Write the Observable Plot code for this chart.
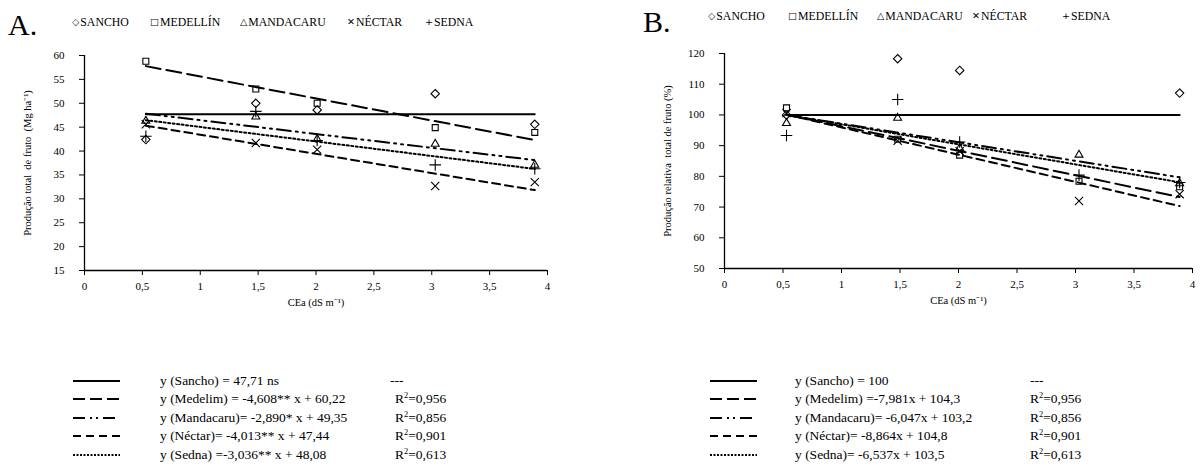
<!DOCTYPE html>
<html><head><meta charset="utf-8">
<script src="https://cdn.jsdelivr.net/npm/d3@7"></script>
<script src="https://cdn.jsdelivr.net/npm/@observablehq/plot@0.6"></script>
<style>
body{margin:0;background:#fff;font-family:"Liberation Serif","Times New Roman",serif;color:#000}
#root{position:relative;width:1200px;height:466px;overflow:hidden;background:#fff}
.abs{position:absolute;white-space:nowrap;line-height:1.15;font-family:"Liberation Serif","Times New Roman",serif}
.title{font-size:30px}
.leg{font-size:11.8px}
.leg .g{font-family:"DejaVu Sans",sans-serif;font-size:9.5px;vertical-align:0.1em;margin-right:1px}
.eq{font-size:13.5px}
sup{font-size:0.62em;vertical-align:0.55em;line-height:0}
svg.plot{position:absolute;top:0}
svg.plot text{font-family:"Liberation Serif","Times New Roman",serif !important}
svg.plot [aria-label$="axis label"]{font-size:10.5px}
</style></head><body><div id="root"></div>
<script>
// ---- data ----
const cultivars = ["Sancho", "Medellín", "Mandacaru", "Néctar", "Sedna"];
const legendNames = ["SANCHO", "MEDELLÍN", "MANDACARU", "NÉCTAR", "SEDNA"];
const legendGlyphs = ["◇", "□", "△", "✕", "+"];
const ceaLevels = [0.53, 1.48, 2.01, 3.03, 3.89];

// Panel A: total fruit yield (Mg ha-1)
const yieldSancho    = [42.4, 50.0, 48.6, 52.0, 45.6];
const yieldMedellin  = [58.8, 53.0, 50.0, 44.9, 43.9];
const yieldMandacaru = [46.3, 47.2, 42.5, 41.5, 37.1];
const yieldNectar    = [45.6, 41.7, 40.3, 32.7, 33.5];
const yieldSedna     = [43.1, 48.3, 42.2, 37.1, 36.3];

// Panel B: relative total fruit yield (%)  (Sancho at 3.03 is off-scale)
const relSancho    = [100.0, 118.3, 114.5, null, 107.1];
const relMedellin  = [102.3, 92.1, 86.9, 78.4, 76.6];
const relMandacaru = [97.3, 99.0, 89.2, 87.0, 77.7];
const relNectar    = [100.6, 91.6, 88.2, 72.0, 74.2];
const relSedna     = [93.3, 105.0, 91.2, 80.4, 78.0];

// regression coefficients
const slopesA = [0, -4.608, -2.890, -4.013, -3.036];
const interceptsA = [47.71, 60.22, 49.35, 47.44, 48.08];
const slopesB = [0, -7.981, -6.047, -8.864, -6.537];
const interceptsB = [100, 104.3, 103.2, 104.8, 103.5];
const fitRange = [0.53, 3.89];

const eqLabelsA = ["y (Sancho) = 47,71 ns", "y (Medelim) = -4,608** x + 60,22", "y (Mandacaru)= -2,890* x + 49,35", "y (Néctar)= -4,013** x + 47,44", "y (Sedna) =-3,036** x + 48,08"];
const eqLabelsB = ["y (Sancho)  = 100", "y (Medelim) =-7,981x + 104,3", "y (Mandacaru)= -6,047x + 103,2", "y (Néctar)= -8,864x + 104,8", "y (Sedna)= -6,537x + 103,5"];
const r2Labels = [null, "0,956", "0,856", "0,901", "0,613"];

const xTicks = [0, 0.5, 1, 1.5, 2, 2.5, 3, 3.5, 4];
const yTicksA = [15, 20, 25, 30, 35, 40, 45, 50, 55, 60];
const yTicksB = [50, 60, 70, 80, 90, 100, 110, 120];

// ---- styles ----
const symbols = ["diamond2", "square2", "triangle2", "times", "plus"];
const dashes = [null, "15,6", "14,5,2,5,2,5", "8,5", "2,2.5"];
const widths = [2, 2, 2, 2, 2];
const legendDashes = [null, "12,5", "12,5,2,4,2,5", "8,5", "2,1.5"];

const root = document.getElementById("root");
const fmt = d => String(d).replace(".", ",");

function longTable(series) {
  const rows = [];
  series.forEach((vals, i) => vals.forEach((v, j) => {
    if (v != null) rows.push({series: cultivars[i], idx: i, x: ceaLevels[j], y: v});
  }));
  return rows;
}
function fitTable(slopes, intercepts) {
  const rows = [];
  cultivars.forEach((c, i) => fitRange.forEach(x => rows.push({series: c, idx: i, x, y: intercepts[i] + slopes[i] * x})));
  return rows;
}

function panel(pts, fits, yTicks, ylabel, opts) {
  const marks = [];
  cultivars.forEach((c, i) => {
    marks.push(Plot.line(fits.filter(d => d.idx === i), {x: "x", y: "y", stroke: "black", strokeWidth: widths[i], strokeDasharray: dashes[i]}));
  });
  cultivars.forEach((c, i) => {
    marks.push(Plot.dot(pts.filter(d => d.idx === i), {x: "x", y: "y", symbol: symbols[i], r: 3.8, stroke: "black", strokeWidth: 1.1, fill: "none"}));
  });
  marks.push(Plot.ruleX([xTicks[0]], {stroke: "black", strokeWidth: 1.3}));
  marks.push(Plot.ruleY([yTicks[0]], {stroke: "black", strokeWidth: 1.3}));
  const svg = Plot.plot({
    width: opts.width, height: 320,
    marginLeft: opts.ml, marginRight: opts.mr, marginTop: opts.mt, marginBottom: opts.mb,
    style: {fontFamily: "Liberation Serif, serif", fontSize: "11px", color: "black", background: "transparent", overflow: "visible"},
    x: {domain: [xTicks[0], xTicks[xTicks.length - 1]], ticks: xTicks, tickFormat: fmt, tickSize: 5, tickPadding: 7,
        label: "CEa (dS m⁻¹)", labelAnchor: "center", labelOffset: 35, labelArrow: false},
    y: {domain: [yTicks[0], yTicks[yTicks.length - 1]], ticks: yTicks, tickFormat: fmt, tickSize: 5, tickPadding: 15,
        label: ylabel, labelAnchor: "center", labelOffset: opts.lo, labelArrow: false},
    marks
  });
  svg.classList.add("plot");
  svg.style.left = opts.left + "px";
  root.appendChild(svg);
}

const ptsA = longTable([yieldSancho, yieldMedellin, yieldMandacaru, yieldNectar, yieldSedna]);
const ptsB = longTable([relSancho, relMedellin, relMandacaru, relNectar, relSedna]);
panel(ptsA, fitTable(slopesA, interceptsA), yTicksA, "Produção total  de fruto  (Mg ha⁻¹)",
  {left: 0, width: 560, ml: 84, mr: 13, mt: 55, mb: 50, lo: 61});
panel(ptsB, fitTable(slopesB, interceptsB), yTicksB, "Produção relativa  total de fruto (%)",
  {left: 600, width: 600, ml: 124, mr: 8, mt: 53, mb: 52, lo: 61});

// ---- text overlays ----
function addText(html, x, baseline, cls, fs) {
  const d = document.createElement("div");
  d.className = "abs " + cls;
  d.innerHTML = html;
  d.style.left = x + "px";
  d.style.top = (baseline - 0.92 * fs) + "px";
  root.appendChild(d);
  return d;
}
addText("A.", 8, 36, "title", 30);
addText("B.", 643, 33, "title", 30);

const legX_A = [72, 150, 240, 347, 425];
const legX_B = [708, 788, 877, 972, 1062];
legendNames.forEach((n, i) => {
  addText('<span class="g">' + legendGlyphs[i] + '</span>' + n, legX_A[i], 27, "leg", 11.8);
  addText('<span class="g">' + legendGlyphs[i] + '</span>' + n, legX_B[i], 21, "leg", 11.8);
});

// bottom equation legends
const rowBase = [385, 403.5, 422, 440.5, 459];
function sample(i, x, y) {
  const ns = "http://www.w3.org/2000/svg";
  const s = document.createElementNS(ns, "svg");
  s.setAttribute("width", 50); s.setAttribute("height", 6);
  s.style.position = "absolute"; s.style.left = x + "px"; s.style.top = (y - 3) + "px";
  const l = document.createElementNS(ns, "line");
  l.setAttribute("x1", 0); l.setAttribute("x2", 47); l.setAttribute("y1", 3); l.setAttribute("y2", 3);
  l.setAttribute("stroke", "black"); l.setAttribute("stroke-width", i === 4 ? 2.2 : 2);
  if (legendDashes[i]) l.setAttribute("stroke-dasharray", legendDashes[i]);
  s.appendChild(l);
  root.appendChild(s);
}
cultivars.forEach((c, i) => {
  sample(i, 73, rowBase[i] - 4.5);
  sample(i, 710, rowBase[i] - 4.5);
  addText(eqLabelsA[i], 160, rowBase[i], "eq", 13.5);
  addText(eqLabelsB[i], 795, rowBase[i], "eq", 13.5);
  const r = r2Labels[i] == null ? "---" : "R<sup>2</sup>=" + r2Labels[i];
  addText(r, r2Labels[i] == null ? 390 : 395, rowBase[i], "eq", 13.5);
  addText(r, 1030, rowBase[i], "eq", 13.5);
});
</script></body></html>
